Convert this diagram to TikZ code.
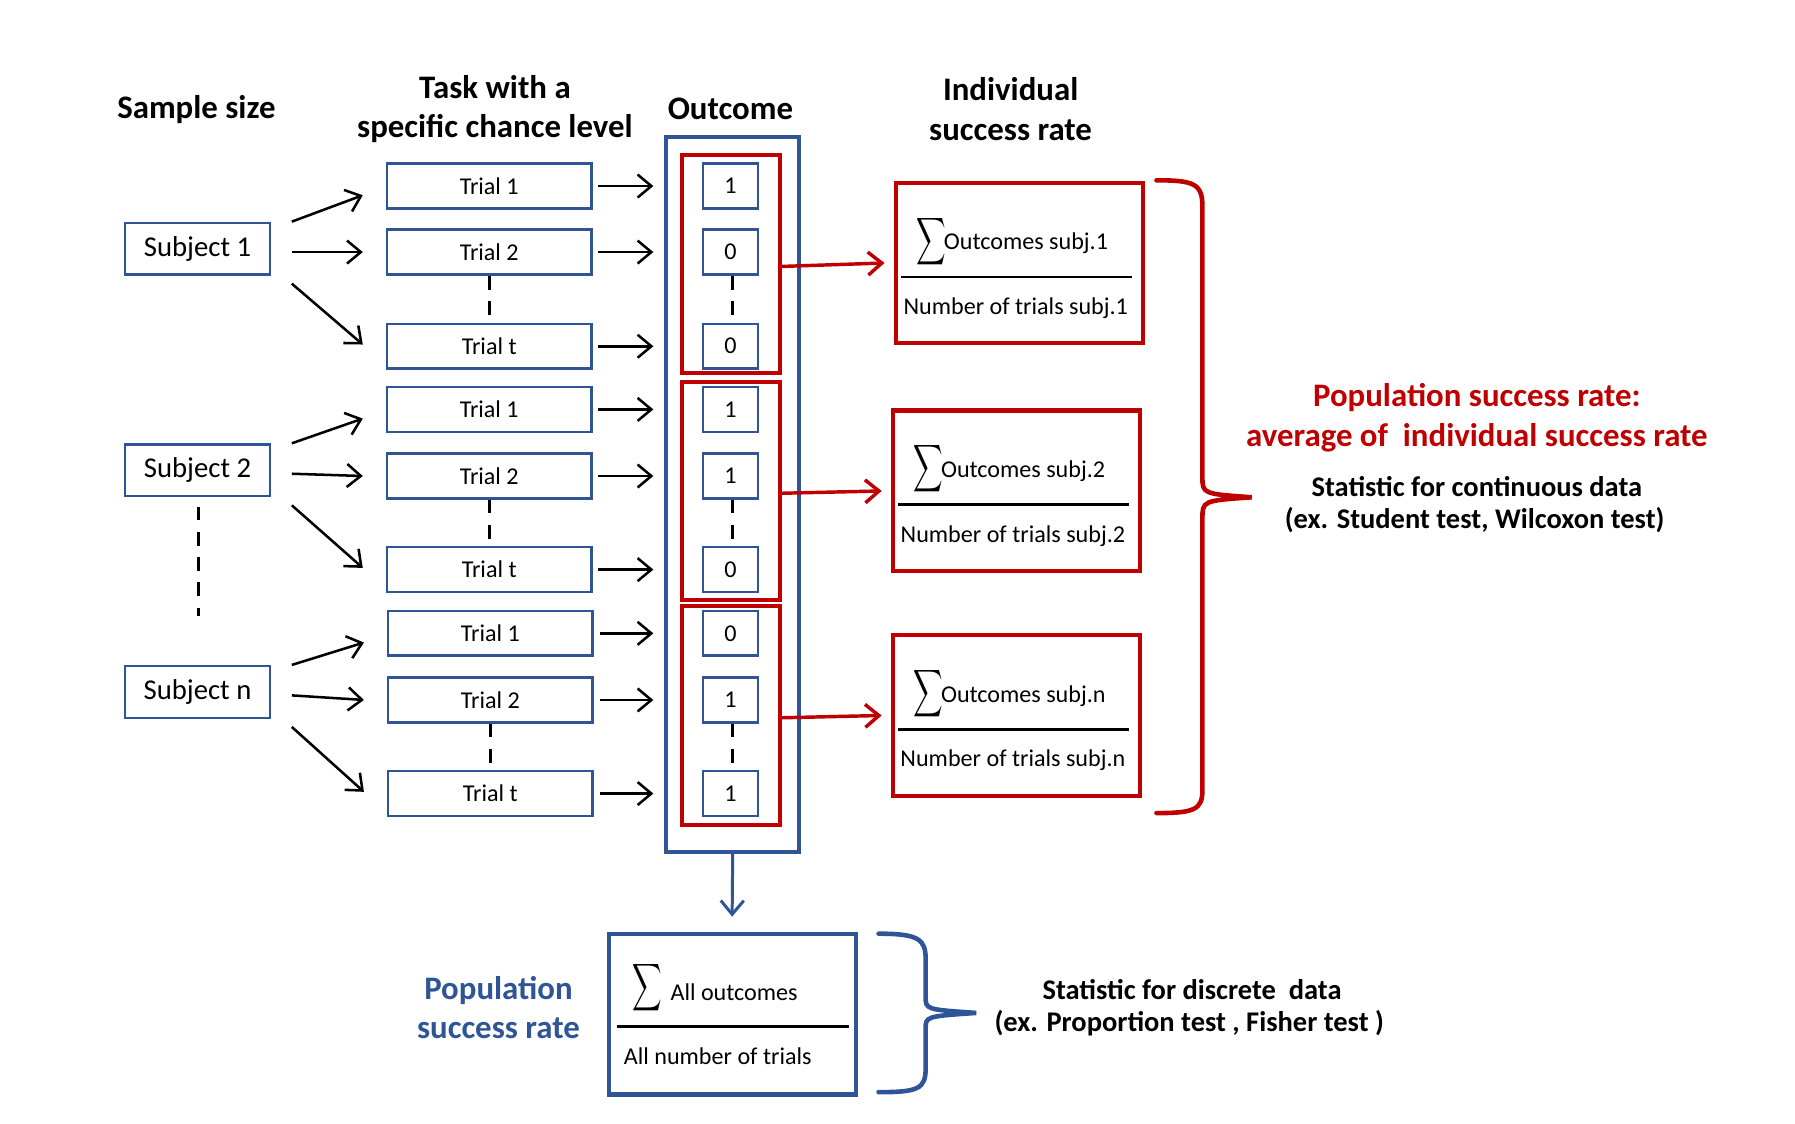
\documentclass[tikz,border=0pt]{standalone}
\usepackage{amsmath}
\usepackage{fontspec}
\setmainfont{Carlito}
\usetikzlibrary{arrows.meta,calc}
\definecolor{cblue}{HTML}{2F5597}
\definecolor{cred}{HTML}{C00000}
\newcommand{\mysig}{\scalebox{0.62}[1]{$\displaystyle\sum$}}
\tikzset{
  subj/.style={draw=cblue,line width=1.1pt,minimum width=63pt,minimum height=22.5pt,inner sep=0pt,font=\fontsize{12.5}{15}\selectfont},
  trial/.style={draw=cblue,line width=1.1pt,minimum width=89pt,minimum height=19.5pt,inner sep=0pt,font=\fontsize{10.5}{12}\selectfont},
  outc/.style={draw=cblue,line width=1.1pt,minimum width=24pt,minimum height=19.5pt,inner sep=0pt,font=\fontsize{10.5}{12}\selectfont},
  grp/.style={draw=cred,line width=1.8pt,minimum width=42.5pt,minimum height=95pt,inner sep=0pt},
  rate/.style={draw=cred,line width=1.8pt,minimum width=107.5pt,minimum height=70pt,inner sep=0pt},
  bigbox/.style={draw=cblue,line width=1.8pt,inner sep=0pt},
  head/.style={font=\bfseries\fontsize{14.3}{17}\selectfont,align=center},
  arr/.style={-{Straight Barb[length=6pt,width=10pt,line width=1.1pt]},line width=1.1pt},
  redarr/.style={cred,-{Straight Barb[length=6pt,width=10pt,line width=1.5pt]},line width=1.5pt},
  bluearr/.style={cblue,-{Straight Barb[length=6pt,width=10pt,line width=1.3pt]},line width=1.3pt},
  dsh/.style={line width=1.5pt,dash pattern=on 6pt off 5pt},
  small/.style={font=\fontsize{10.5}{12}\selectfont,inner sep=0pt},
  sig/.style={inner sep=0pt,font=\fontsize{13.5}{14}\selectfont},
  brace/.style={line width=2pt,line cap=round}
}
\begin{document}
\begin{tikzpicture}[x=0.5pt,y=-0.5pt]
\useasboundingbox (0,0) rectangle (1563,978);

% headings
\node[head] (h1) at (171,95) {Sample size};
\node[head] (h2) at (431,95) {Task with a\\specific chance level};
\node[head] (h3) at (636,95) {Outcome};
\node[head] (h4) at (880,95) {Individual\\success rate};

% outcome big box
\node[bigbox,minimum width=58pt,minimum height=311.5pt] (big) at (638,430.5) {};

% subjects
\node[subj] (s1) at (172,216.5) {Subject 1};
\node[subj] (s2) at (172,409.5) {Subject 2};
\node[subj] (s3) at (172,602.5) {Subject n};
\draw[dsh] ($(s2.south)+(1,8)$) coordinate (d1) -- ($(s2.south)+(1,103)$) coordinate (d2);

\foreach \g/\ya/\yb/\yc/\tx/\va/\vb/\vc/\gy in {1/162/219.5/301.5/426/1/0/0/230, 2/356.5/414.5/496/426/1/1/0/427.5, 3/551.5/609.5/691/427/0/1/1/623}{
  \node[trial] (t\g a) at (\tx,\ya) {Trial 1};
  \node[trial] (t\g b) at (\tx,\yb) {Trial 2};
  \node[trial] (t\g c) at (\tx,\yc) {Trial t};
  \draw[dsh] (t\g b.south) -- (t\g c.north);
  \node[grp] (g\g) at (636.5,\gy) {};
  \node[outc] (o\g a) at (636,\ya) {\va};
  \node[outc] (o\g b) at (636,\yb) {\vb};
  \node[outc] (o\g c) at (636,\yc) {\vc};
  \draw[dsh] ($(o\g b.south)+(2,0)$) -- ($(o\g c.north)+(2,0)$);
  \draw[arr] ($(s\g.east)+(18,-23.5)$) -- ($(t\g a.west)+(-20,8)$);
  \draw[arr] ($(s\g.east)+(18,3)$) -- ($(t\g b.west)+(-20,0)$);
  \draw[arr] ($(s\g.east)+(18,30.5)$) -- ($(t\g c.west)+(-20,-1.5)$);
  \draw[arr] ($(t\g a.east)+(5,0)$) -- ($(o\g a.west)+(-42,0)$);
  \draw[arr] ($(t\g b.east)+(5,0)$) -- ($(o\g b.west)+(-42,0)$);
  \draw[arr] ($(t\g c.east)+(5,0)$) -- ($(o\g c.west)+(-42,0)$);
}

% rate boxes
\node[rate] (r1) at (887.5,229) {};
\node[rate] (r2) at (885,427.5) {};
\node[rate] (r3) at (885,623) {};
\foreach \g/\lab in {1/1,2/2,3/n}{
  \node[sig] (rs\g) at ($(r\g.center)+(-77,-19)$) {\mysig};
  \node[small,anchor=west] (ro\g) at ($(r\g.center)+(-66,-17)$) {Outcomes subj.\lab};
  \draw[line width=1.1pt] ($(r\g.center)+(-103,12)$) coordinate (la\g) -- ($(r\g.center)+(98,12)$) coordinate (lb\g);
  \node[small] (rn\g) at ($(r\g.center)+(-3,39)$) {Number of trials subj.\lab};
  \draw[redarr] ($(g\g.east)+(0,2)$) -- ($(r\g.west)+(-8,0)$);
}

% red brace
\draw[cred,brace] (1007,157) coordinate (rb1) .. controls (1040,157) and (1047,160) .. (1047,180) -- (1047,415) .. controls (1047,430) .. (1090,433) coordinate (rbt) .. controls (1047,436) .. (1047,452) -- (1047,688) .. controls (1047,705) and (1040,708) .. (1007,708) coordinate (rb2);

\node[font=\bfseries\fontsize{14.3}{17}\selectfont,text=cred] (p1) at (1286,346) {Population success rate:};
\node[font=\bfseries\fontsize{14.3}{17}\selectfont,text=cred] (p2) at (1286,381) {average of~ individual success rate};
\node[font=\bfseries\fontsize{12.4}{15}\selectfont] (p3) at (1286,424) {Statistic for continuous data};
\node[font=\bfseries\fontsize{12.4}{15}\selectfont] (p4) at (1284,453) {(ex. Student test, Wilcoxon test)};

% population box
\node[bigbox,minimum width=107.5pt,minimum height=70pt] (pop) at (637.5,883) {};
\draw[bluearr] (big.south) -- ($(pop.north)+(0,-13)$);
\node[sig] (ps) at ($(pop.center)+(-74,-23)$) {\mysig};
\node[small,anchor=west] (pa) at ($(pop.center)+(-54,-19)$) {All outcomes};
\draw[line width=1.1pt] ($(pop.center)+(-100.5,11)$) coordinate (pl1) -- ($(pop.center)+(101.5,11)$) coordinate (pl2);
\node[small] (pn) at ($(pop.center)+(-12.5,37)$) {All number of trials};

\node[font=\bfseries\fontsize{14.3}{17}\selectfont,text=cblue,align=center] (pp) at (434,877) {Population\\success rate};

% blue brace
\draw[cblue,brace] (765,813) coordinate (bb1) .. controls (800,813) and (806,818) .. (806,835) -- (806,868) .. controls (806,879) .. (850,882) coordinate (bbt) .. controls (806,885) .. (806,896) -- (806,930) .. controls (806,948) and (800,951) .. (765,951) coordinate (bb2);

\node[font=\bfseries\fontsize{12.4}{15}\selectfont] (q1) at (1038,862) {Statistic for discrete~ data};
\node[font=\bfseries\fontsize{12.4}{15}\selectfont] (q2) at (1035.5,891) {(ex. Proportion test , Fisher test )};
\end{tikzpicture}
\end{document}
